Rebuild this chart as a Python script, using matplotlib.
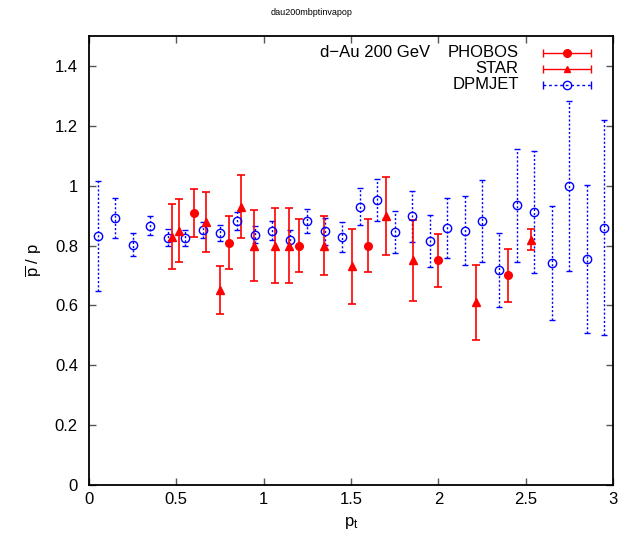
import numpy as np
import matplotlib
matplotlib.use('Agg')
import matplotlib.pyplot as plt

plt.rcParams['font.family'] = ['Liberation Sans', 'DejaVu Sans']
plt.rcParams['mathtext.fontset'] = 'custom'
plt.rcParams['mathtext.rm'] = 'Liberation Sans'
plt.rcParams['mathtext.it'] = 'Liberation Sans'

# DPMJET calculation
dpm_pt = [0.05, 0.15, 0.25, 0.35, 0.45, 0.55, 0.65, 0.75, 0.85, 0.95,
          1.05, 1.15, 1.25, 1.35, 1.45, 1.55, 1.65, 1.75, 1.85, 1.95,
          2.05, 2.15, 2.25, 2.35, 2.45, 2.55, 2.65, 2.75, 2.85, 2.95]
dpm_val = [0.832, 0.893, 0.803, 0.866, 0.826, 0.825, 0.851, 0.843, 0.882, 0.836,
           0.850, 0.819, 0.882, 0.847, 0.828, 0.930, 0.951, 0.846, 0.898, 0.815,
           0.858, 0.850, 0.882, 0.718, 0.934, 0.912, 0.741, 0.999, 0.756, 0.860]
dpm_err = [0.185, 0.067, 0.038, 0.032, 0.028, 0.026, 0.026, 0.027, 0.030, 0.029,
           0.031, 0.032, 0.040, 0.046, 0.049, 0.061, 0.070, 0.070, 0.085, 0.088,
           0.100, 0.114, 0.136, 0.124, 0.190, 0.203, 0.190, 0.283, 0.247, 0.358]

# PHOBOS data
phobos_pt = [0.6, 0.8, 1.2, 1.6, 2.0, 2.4]
phobos_val = [0.91, 0.81, 0.80, 0.80, 0.75, 0.70]
phobos_err = [0.08, 0.09, 0.09, 0.09, 0.09, 0.09]

# STAR data
star_pt = [0.475, 0.513, 0.672, 0.752, 0.870, 0.947, 1.066, 1.147,
           1.345, 1.504, 1.698, 1.856, 2.215, 2.532]
star_val = [0.83, 0.85, 0.88, 0.65, 0.93, 0.80, 0.80, 0.80,
            0.80, 0.73, 0.90, 0.75, 0.61, 0.82]
star_err = [0.11, 0.105, 0.10, 0.08, 0.106, 0.12, 0.125, 0.125,
            0.10, 0.125, 0.13, 0.135, 0.125, 0.035]

fig = plt.figure(figsize=(6.23, 5.37), dpi=100)
ax = fig.add_axes([0.1429, 0.0968, 0.8411, 0.8362])

# DPMJET
eb = ax.errorbar(dpm_pt, dpm_val, yerr=dpm_err, fmt='o', color='#0000ff',
                 mfc='none', ms=6, mew=1.0, elinewidth=1.0, capsize=2.5, capthick=1.0)
eb[2][0].set_linestyle((0, (1.5, 1.5)))

# PHOBOS
ax.errorbar(phobos_pt, phobos_val, yerr=phobos_err, fmt='o', color='#ff0000',
            ms=5.5, elinewidth=1.2, capsize=2.8, capthick=1.2)

# STAR
ax.errorbar(star_pt, star_val, yerr=star_err, fmt='^', color='#ff0000',
            ms=5.5, elinewidth=1.2, capsize=2.8, capthick=1.2)

# legend, gnuplot style (text right aligned, sample to the right)
lx = [0.912]
lxe = [0.0464]
ax.errorbar(lx, [0.963], xerr=lxe, fmt='o', color='#ff0000', ms=5.5,
            elinewidth=1.0, capsize=2.8, transform=ax.transAxes, clip_on=False)
ax.errorbar(lx, [0.9265], xerr=lxe, fmt='^', color='#ff0000', ms=5.0,
            elinewidth=1.0, capsize=2.8, transform=ax.transAxes, clip_on=False)
leg = ax.errorbar(lx, [0.891], xerr=lxe, fmt='o', color='#0000ff', mfc='none', ms=6,
                  elinewidth=1.0, capsize=2.8, transform=ax.transAxes, clip_on=False)
leg[2][0].set_linestyle((0, (2, 2)))

fs = 12
ax.text(0.82, 0.963, 'PHOBOS', transform=ax.transAxes, ha='right', va='center', fontsize=fs)
ax.text(0.82, 0.9265, 'STAR', transform=ax.transAxes, ha='right', va='center', fontsize=fs)
ax.text(0.82, 0.891, 'DPMJET', transform=ax.transAxes, ha='right', va='center', fontsize=fs)
ax.text(0.651, 0.963, 'd\u2212Au 200 GeV', transform=ax.transAxes, ha='right', va='center', fontsize=fs)

ax.set_xlim(0, 3)
ax.set_ylim(0, 1.5)
ax.set_xticks([0, 0.5, 1, 1.5, 2, 2.5, 3])
ax.set_xticklabels(['0', '0.5', '1', '1.5', '2', '2.5', '3'])
ax.set_yticks([0, 0.2, 0.4, 0.6, 0.8, 1.0, 1.2, 1.4])
ax.set_yticklabels(['0', '0.2', '0.4', '0.6', '0.8', '1', '1.2', '1.4'])
ax.tick_params(direction='in', length=5, width=1, color='#555555', labelsize=fs,
               top=True, right=True)
ax.tick_params(axis='x', pad=5)
ax.tick_params(axis='y', pad=8)
for s in ax.spines.values():
    s.set_linewidth(1.3)

ax.set_xlabel(r'p$_\mathrm{t}$', fontsize=fs, labelpad=6)
ax.set_ylabel(r'$\overline{\mathrm{p}}$ / p', fontsize=fs, labelpad=8)
fig.text(0.5, 0.977, 'dau200mbptinvapop', ha='center', va='center', fontsize=6.5)

fig.savefig('out.png', dpi=100)
